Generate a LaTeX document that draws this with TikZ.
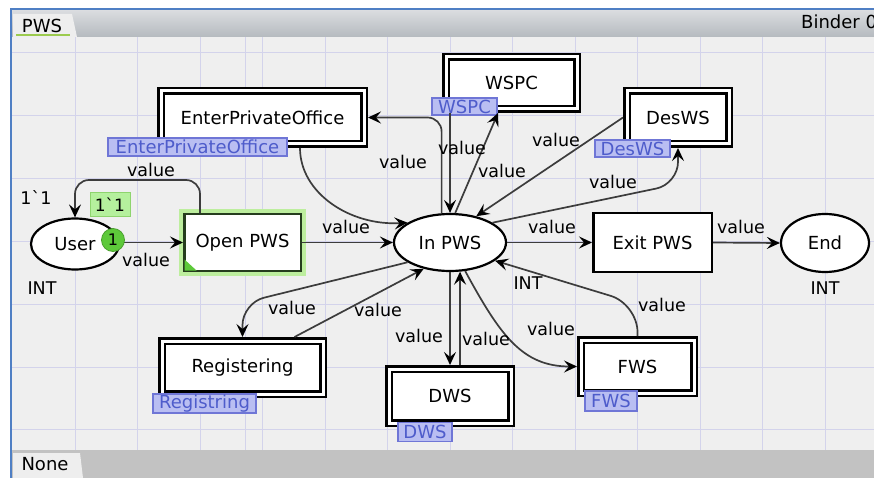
\documentclass[tikz,border=0pt]{standalone}
\usepackage{fontspec}
\setmainfont{DejaVu Sans}[Ligatures=TeXOff]
\usetikzlibrary{shapes.geometric,arrows.meta,calc}

\definecolor{canvas}{HTML}{EFEFEF}
\definecolor{gridc}{HTML}{D3D3EB}
\definecolor{frameblue}{HTML}{4F7FC4}
\definecolor{bartop}{HTML}{DCDEE1}
\definecolor{barbot}{HTML}{B5BABF}
\definecolor{tabfill}{HTML}{EEEEEE}
\definecolor{botbar}{HTML}{C2C2C2}
\definecolor{arcgray}{HTML}{3C3C3C}
\definecolor{lblfill}{HTML}{B9BEF2}
\definecolor{lblborder}{HTML}{6F76D6}
\definecolor{lbltext}{HTML}{4E5CCB}
\definecolor{tokgreen}{HTML}{5DC93A}
\definecolor{tokbox}{HTML}{B5F09D}
\definecolor{tokboxb}{HTML}{8ED46E}
\definecolor{glow}{HTML}{BDEE9E}
\definecolor{enabled}{HTML}{263D1E}
\definecolor{tabline}{HTML}{9CCB4E}

\begin{document}
\begin{tikzpicture}[x=1pt,y=-1pt,
  font=\fontsize{18}{21}\selectfont,
  arc/.style={draw=arcgray, line width=1.7pt,
    -{Stealth[length=13pt,width=12pt,inset=5pt,color=black]}},
  place/.style={ellipse, draw=black, line width=2.2pt, fill=white,
    inner sep=0pt, outer sep=1.1pt},
  trans/.style={rectangle, draw=black, line width=2.5pt, fill=white,
    inner sep=0pt, outer sep=1.25pt},
  subst/.style={rectangle, draw=black, double=white, double distance=3pt,
    line width=2.5pt, fill=white, inner sep=0pt, outer sep=4pt},
  inscr/.style={font=\fontsize{17.5}{20}\selectfont, inner sep=0pt, text=black},
  sublabel/.style={rectangle, draw=lblborder, fill=lblfill, text=lbltext,
    line width=1.2pt, inner sep=0pt},
]
\useasboundingbox (0,0) rectangle (874,478);
\clip (0,0) rectangle (874,478);

% window frame, tab bars and canvas
\fill[white] (0,0) rectangle (874,478);
\fill[canvas] (12,37) rectangle (874,450);
\foreach \gx in {75,137.5,...,870} \draw[gridc, line width=1pt] (\gx,37) -- (\gx,450);
\draw[gridc, line width=1pt] (245,37) -- (245,450);
\foreach \gy in {53,115.8,178.6,241.4,304.2,367,429.8} \draw[gridc, line width=1pt] (12,\gy) -- (874,\gy);
\shade[top color=bartop, bottom color=barbot] (12,9) rectangle (874,37);
\fill[tabfill] (13,37) -- (13,14) -- (72,14) -- (77,37) -- cycle;
\node[anchor=center, inner sep=0pt] (tabpws) at (42,26) {PWS};
\draw[tabline, line width=1.2pt] (16,35) -- (70,35);
\node[anchor=west, inner sep=0pt] (binder) at (801,22) {Binder 0};
\fill[botbar] (12,450) rectangle (874,478);
\fill[tabfill] (13,478) -- (13,453) -- (80,453) -- (83,478) -- cycle;
\node[inner sep=0pt] (tabnone) at (45,464) {None};
\draw[frameblue, line width=2pt] (11,478) -- (11,9) -- (874,9);

% places
\node[place, minimum width=88pt, minimum height=51pt] (user) at (75,244) {User};
\node[place, minimum width=112pt, minimum height=57pt] (inpws) at (450,242.5) {In PWS};
\node[place, minimum width=88pt, minimum height=58pt] (endp) at (825,243) {End};

% transitions
\node[trans, draw=enabled, preaction={draw=glow, line width=10pt},
  minimum width=116.5pt, minimum height=56.5pt] (open) at (242.5,242.5) {Open PWS};
\fill[tokgreen] ([shift={(1.5pt,1.5pt)}]open.south west) -- ++(12,0) -- ++(-12,-11) -- cycle;
\node[trans, minimum width=118.5pt, minimum height=58.5pt] (exitp) at (652.5,242.5) {Exit PWS};

% substitution transitions
\node[subst, minimum width=203pt, minimum height=53pt] (epo) at (262.5,117.5) {EnterPrivateOffice};
\node[subst, minimum width=131pt, minimum height=52pt] (wspc) at (511.5,83) {WSPC};
\node[subst, minimum width=102pt, minimum height=53pt] (desws) at (678,117.5) {DesWS};
\node[subst, minimum width=161pt, minimum height=53pt] (reg) at (242.5,367.5) {Registering};
\node[subst, minimum width=122pt, minimum height=54pt] (dws) at (450,396) {DWS};
\node[subst, minimum width=113pt, minimum height=53pt] (fws) at (637.5,366.5) {FWS};

% subpage tags
\node[sublabel, minimum width=179pt, minimum height=18pt] (tagepo) at (197.5,147) {EnterPrivateOffice};
\node[sublabel, minimum width=65pt, minimum height=17pt] (tagwspc) at (464.5,106.5) {WSPC};
\node[sublabel, minimum width=75pt, minimum height=17pt] (tagdes) at (632.5,148.5) {DesWS};
\node[sublabel, minimum width=103pt, minimum height=19pt] (tagreg) at (204.5,403.5) {Registring};
\node[sublabel, minimum width=54pt, minimum height=19pt] (tagdws) at (425,432) {DWS};
\node[sublabel, minimum width=52pt, minimum height=20pt] (tagfws) at (611,401) {FWS};

% colour sets and initial marking
\node[inscr] (csuser) at (42,288) {INT};
\node[inscr] (csin) at (528,283) {INT};
\node[inscr] (csend) at (825,288) {INT};
\node[inscr] (initm) at (36,198) {1`1};

% arcs
\draw[arc] (user.east |- open.west) -- (open.west);
\draw[arc, rounded corners=14pt] ([xshift=17pt]open.north west) -- ++(0,-33) -| (user.north);
\draw[arc] (open.east) -- (inpws.west);
\draw[arc] ([xshift=37.5pt]epo.south) .. controls +(0,45) and (350,226) .. (inpws.155);
\draw[arc, rounded corners=14pt] (inpws.106) |- (epo.east);
\draw[arc] (inpws.north |- wspc.south) -- (inpws.north);
\draw[arc] (inpws.80) -- ([xshift=-13.5pt]wspc.south);
\draw[arc] (desws.west) -- (inpws.45);
\coordinate (dcorner) at (678,184);
\draw[arc, rounded corners=22pt] (inpws.25) -- (dcorner) -- (desws.south);
\draw[arc] (inpws.east) -- (exitp.west);
\draw[arc] (exitp.east) -- (endp.west);
\coordinate (fcorner) at (637.5,304);
\draw[arc, rounded corners=28pt] (fws.north) -- (fcorner) -- (inpws.-22);
\draw[arc] (inpws.-62) .. controls (500,335) and (522,366.5) .. (fws.west);
\draw[arc] (inpws.south) -- (dws.north);
\draw[arc] (inpws.-71 |- dws.north) -- (inpws.-71);
\coordinate (rcorner) at (242.5,303);
\draw[arc, rounded corners=22pt] (inpws.205) -- (rcorner) -- (reg.north);
\draw[arc] ([xshift=52pt]reg.north) -- (inpws.225);

% arc inscriptions
\node[inscr] (v1) at (146,260) {value};
\node[inscr] (v2) at (151,170) {value};
\node[inscr] (v3) at (346,227) {value};
\node[inscr] (v4) at (403,162) {value};
\node[inscr] (v5) at (462,148) {value};
\node[inscr] (v6) at (502,171) {value};
\node[inscr] (v7) at (556,140) {value};
\node[inscr] (v8) at (613,182) {value};
\node[inscr] (v9) at (552,227) {value};
\node[inscr] (v10) at (741,227) {value};
\node[inscr] (v11) at (662,305) {value};
\node[inscr] (v12) at (551,329) {value};
\node[inscr] (v13) at (419,336) {value};
\node[inscr] (v14) at (486,339) {value};
\node[inscr] (v15) at (292,308) {value};
\node[inscr] (v16) at (378,310) {value};

% current marking of User
\node[rectangle, fill=tokbox, draw=tokboxb, line width=1pt, minimum width=40pt,
  minimum height=24pt, inner sep=0pt, font=\fontsize{17}{20}\selectfont] (mark) at (110,205) {1`1};
\node[circle, fill=tokgreen, draw=tokgreen!80!black, line width=0.8pt, minimum size=23pt,
  inner sep=0pt, font=\fontsize{16}{16}\selectfont] (tok) at (113,240) {1};
\end{tikzpicture}
\end{document}
